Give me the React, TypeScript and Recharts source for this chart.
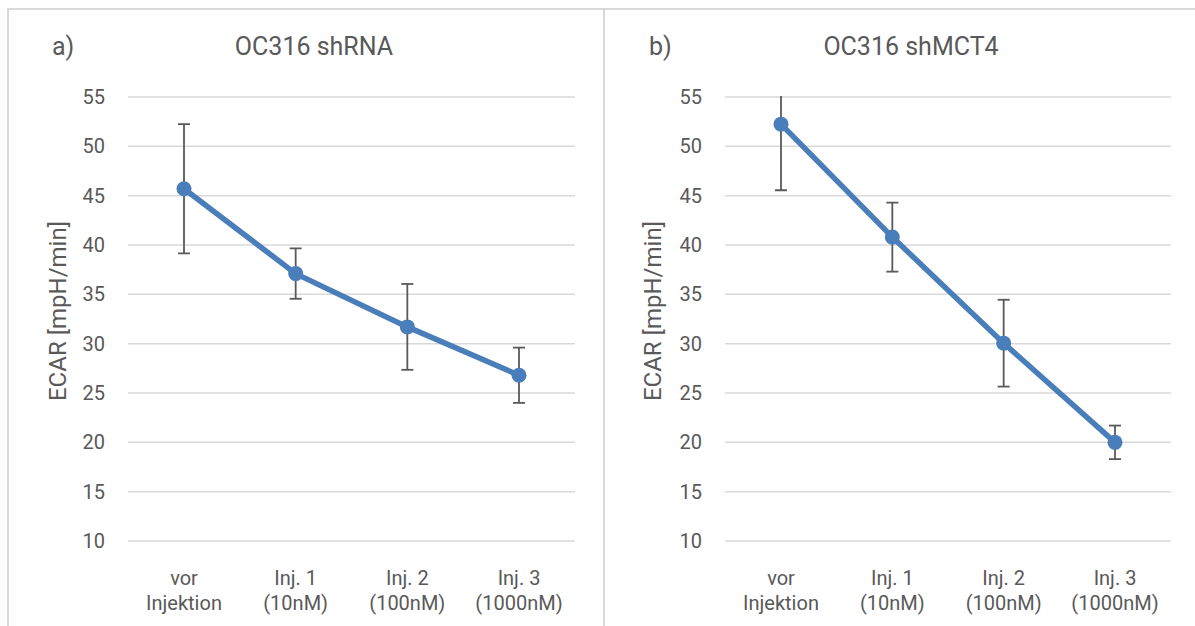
import React from "react";
import { LineChart, Line, XAxis, YAxis, CartesianGrid, ErrorBar } from "recharts";

const categories = ["vor Injektion", "Inj. 1 (10nM)", "Inj. 2 (100nM)", "Inj. 3 (1000nM)"];
const categoryLines = [
	["vor", "Injektion"],
	["Inj. 1", "(10nM)"],
	["Inj. 2", "(100nM)"],
	["Inj. 3", "(1000nM)"],
];
const shRnaValues = [45.7, 37.1, 31.7, 26.8];
const shRnaErrors = [6.55, 2.55, 4.35, 2.8];
const shMct4Values = [52.25, 40.8, 30.05, 20.0];
const shMct4Errors = [6.7, 3.5, 4.4, 1.7];
const yTicks = [10, 15, 20, 25, 30, 35, 40, 45, 50, 55];

const FONT = "Roboto, 'Noto Sans', sans-serif";
const TEXT = "#595959";
const GRID = "#d9d9d9";
const BLUE = "#4a7ebb";

function CategoryTick(props: any) {
	const { x, y, payload } = props;
	const idx = categories.indexOf(payload.value);
	const lines = categoryLines[idx] || [payload.value, ""];
	return (
		<text x={x} y={y} textAnchor="middle" fill={TEXT} fontSize={20} fontFamily={FONT}>
			<tspan x={x} dy={44}>{lines[0]}</tspan>
			<tspan x={x} dy={25}>{lines[1]}</tspan>
		</text>
	);
}

function Panel(props: { values: number[]; errors: number[]; width: number; left: number; right: number }) {
	const data = categories.map((name, i) => ({ name, value: props.values[i], err: props.errors[i] }));
	return (
		<LineChart
			width={props.width}
			height={626}
			data={data}
			margin={{ top: 97, right: props.right, left: props.left, bottom: 15 }}
		>
			<CartesianGrid vertical={false} stroke={GRID} strokeWidth={1.5} />
			<XAxis
				dataKey="name"
				axisLine={false}
				tickLine={false}
				tickSize={0}
				tickMargin={0}
				height={70}
				interval={0}
				padding={{ left: 56, right: 56 }}
				tick={<CategoryTick />}
			/>
			<YAxis
				type="number"
				domain={[10, 55]}
				ticks={yTicks}
				allowDataOverflow
				axisLine={false}
				tickLine={false}
				tickMargin={17}
				width={60}
				tick={{ fill: TEXT, fontSize: 20, fontFamily: FONT }}
			/>
			<Line
				dataKey="value"
				stroke={BLUE}
				strokeWidth={5.5}
				dot={{ r: 7.5, fill: BLUE, stroke: BLUE, strokeWidth: 0 }}
				activeDot={false}
				isAnimationActive={false}
			>
				<ErrorBar dataKey="err" direction="y" width={6} stroke={TEXT} strokeWidth={1.8} />
			</Line>
		</LineChart>
	);
}

export default function App() {
	// error bars running past the axis max are cut at the top of the plot, like in the source;
	// the tick-label strip on the left stays uncut
	const plotClip = "polygon(0px 70px, 115px 70px, 115px 96px, 100% 96px, 100% 100%, 0px 100%)";
	return (
		<div style={{ position: "absolute", left: 0, top: 0, width: 1195, height: 626, background: "#fff", overflow: "hidden" }}>
			<div style={{ position: "absolute", left: 7, top: 8, width: 1300, height: 2, background: GRID }} />
			<div style={{ position: "absolute", left: 7, top: 8, width: 2, height: 700, background: GRID }} />
			<div style={{ position: "absolute", left: 603, top: 8, width: 2, height: 700, background: GRID }} />
			<div style={{ position: "absolute", left: 0, top: 0, clipPath: plotClip }}>
				<Panel values={shRnaValues} errors={shRnaErrors} width={604} left={68} right={29} />
			</div>
			<div style={{ position: "absolute", left: 604, top: 0, clipPath: plotClip }}>
				<Panel values={shMct4Values} errors={shMct4Errors} width={591} left={61} right={24} />
			</div>
			<svg width={1195} height={626} style={{ position: "absolute", left: 0, top: 0, pointerEvents: "none" }}>
				<g fill={TEXT} fontFamily={FONT}>
					<text x={52} y={55} fontSize={25}>a)</text>
					<text x={314} y={55} fontSize={25} textAnchor="middle">OC316 shRNA</text>
					<text x={649} y={55} fontSize={25}>b)</text>
					<text x={911} y={55} fontSize={25} textAnchor="middle">OC316 shMCT4</text>
					<text x={58} y={311} fontSize={24} textAnchor="middle" dominantBaseline="central" transform="rotate(-90 58 311)">ECAR [mpH/min]</text>
					<text x={653} y={311} fontSize={24} textAnchor="middle" dominantBaseline="central" transform="rotate(-90 653 311)">ECAR [mpH/min]</text>
				</g>
			</svg>
		</div>
	);
}
